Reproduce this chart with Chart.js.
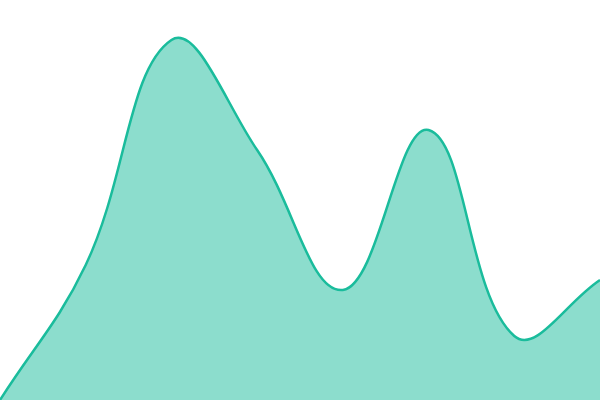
<!DOCTYPE html>
<html>
<head>
<meta charset="utf-8">
<script src="https://cdn.jsdelivr.net/npm/chart.js@4"></script>
<style>
  html, body { margin: 0; padding: 0; background: #fff; }
  #wrap { width: 600px; height: 400px; }
</style>
</head>
<body>
<div id="wrap"><canvas id="areaChart"></canvas></div>
<script>
// data
const labels = ['1', '2', '3', '4', '5', '6', '7', '8'];
const values = [0, 135, 360, 250, 110, 270, 64, 120];
const yRange = [0, 400];

const ctx = document.getElementById('areaChart');

new Chart(ctx, {
  type: 'line',
  data: {
    labels: labels,
    datasets: [{
      data: values,
      borderColor: '#1abc9c',
      backgroundColor: 'rgba(26, 188, 156, 0.5)',
      borderWidth: 2.5,
      fill: true,
      tension: 0.4,
      pointRadius: 0
    }]
  },
  options: {
    responsive: true,
    maintainAspectRatio: false,
    animation: false,
    layout: { padding: 0 },
    plugins: { legend: { display: false }, tooltip: { enabled: false } },
    scales: {
      x: { display: false, offset: false },
      y: { display: false, min: yRange[0], max: yRange[1] }
    }
  }
});
</script>
</body>
</html>
